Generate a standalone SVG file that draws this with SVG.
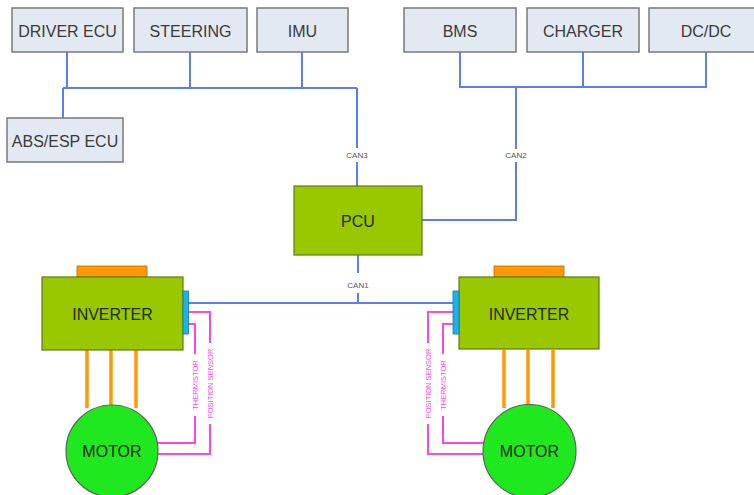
<svg xmlns="http://www.w3.org/2000/svg" width="754" height="495" viewBox="0 0 754 495">
<style>
.box{fill:#e3e9f3;stroke:#7a7a7a;stroke-width:1.5}
.t{font-family:"Liberation Sans",Arial,sans-serif;font-size:16px;fill:#3a3a3a;text-anchor:middle}
.tg{font-family:"Liberation Sans",Arial,sans-serif;font-size:16px;fill:#1f2a00;text-anchor:middle}
.can{font-family:"Liberation Sans",Arial,sans-serif;font-size:8px;fill:#555;text-anchor:middle}
.sl{font-family:"Liberation Sans",Arial,sans-serif;font-size:7.5px;fill:#ff44ee;text-anchor:middle}
.bus{fill:none;stroke:#5b7ef5;stroke-width:2}
.mag{fill:none;stroke:#ff44ee;stroke-width:2}
.ph{stroke:#ff9900;stroke-width:3.5}
.inv{fill:#99c800;stroke:#5e7a10;stroke-width:1.2}
.cap{fill:#ff9900;stroke:#b36b00;stroke-width:0.8}
.con{fill:#19b4ea;stroke:#137aa0;stroke-width:0.8}
.mot{fill:#1fe81f;stroke:#606060;stroke-width:1.2}
</style>
<g id="connectors">
<path class="bus" d="M63,88 H357 M67,52 V88 M190,52 V88 M302,52 V88 M63,88 V118 M357,88 V148 M357,162 V186"/>
<path class="bus" d="M460,52 V87 H706 V52 M583,52 V87 M516,87 V149 M516,162 V220 H422"/>
<path class="bus" d="M358,255 V273 M358,293 V303 M188,303 H453"/>
<path class="ph" d="M87,350 V408 M111,350 V405 M136,350 V408 M504,350 V408 M528,350 V405 M553,350 V408"/>
<path class="mag" d="M188,312 H210 V343 M210,424 V454 H157 M188,324 H195 V354 M195,416 V443 H156"/>
<path class="mag" d="M453,312 H428 V343 M428,424 V454 H483 M453,324 H443 V354 M443,416 V443 H484"/>
<text class="can" x="357" y="158">CAN3</text>
<text class="can" x="516" y="158">CAN2</text>
<text class="can" x="358" y="288">CAN1</text>
<text class="sl" transform="translate(197.7,385) rotate(-90)">THERMISTOR</text>
<text class="sl" transform="translate(212.7,383.5) rotate(-90)">POSITION SENSOR</text>
<text class="sl" transform="translate(430.7,383.5) rotate(-90)">POSITION SENSOR</text>
<text class="sl" transform="translate(445.7,385) rotate(-90)">THERMISTOR</text>
</g>
<g id="driver-ecu"><rect class="box" x="12" y="8" width="111" height="44"/><text class="t" x="67.5" y="36.5">DRIVER ECU</text></g>
<g id="steering"><rect class="box" x="134" y="8" width="113" height="44"/><text class="t" x="190.5" y="36.5">STEERING</text></g>
<g id="imu"><rect class="box" x="257" y="8" width="91" height="44"/><text class="t" x="302.5" y="36.5">IMU</text></g>
<g id="abs-esp-ecu"><rect class="box" x="7" y="118" width="116" height="44"/><text class="t" x="65" y="146.5">ABS/ESP ECU</text></g>
<g id="bms"><rect class="box" x="404" y="8" width="112" height="44"/><text class="t" x="460" y="36.5">BMS</text></g>
<g id="charger"><rect class="box" x="527" y="8" width="112" height="44"/><text class="t" x="583" y="36.5">CHARGER</text></g>
<g id="dcdc"><rect class="box" x="649" y="8" width="113" height="44"/><text class="t" x="706" y="36.5">DC/DC</text></g>
<g id="pcu"><rect class="inv" x="294" y="186" width="128" height="69"/><text class="tg" x="358" y="227">PCU</text></g>
<g id="inverter-left"><rect class="cap" x="77" y="266" width="70" height="11"/><rect class="inv" x="42" y="277" width="141" height="73"/><rect class="con" x="183" y="291" width="5.5" height="43"/><text class="tg" x="112.5" y="320">INVERTER</text></g>
<g id="inverter-right"><rect class="cap" x="494" y="266" width="70" height="11"/><rect class="inv" x="459" y="277" width="140" height="72"/><rect class="con" x="453" y="291" width="6" height="43"/><text class="tg" x="529" y="320">INVERTER</text></g>
<g id="motor-left"><circle class="mot" cx="112" cy="451" r="46"/><text class="tg" x="112" y="457">MOTOR</text></g>
<g id="motor-right"><circle class="mot" cx="529.5" cy="451" r="46.5"/><text class="tg" x="529.5" y="457">MOTOR</text></g>
</svg>
